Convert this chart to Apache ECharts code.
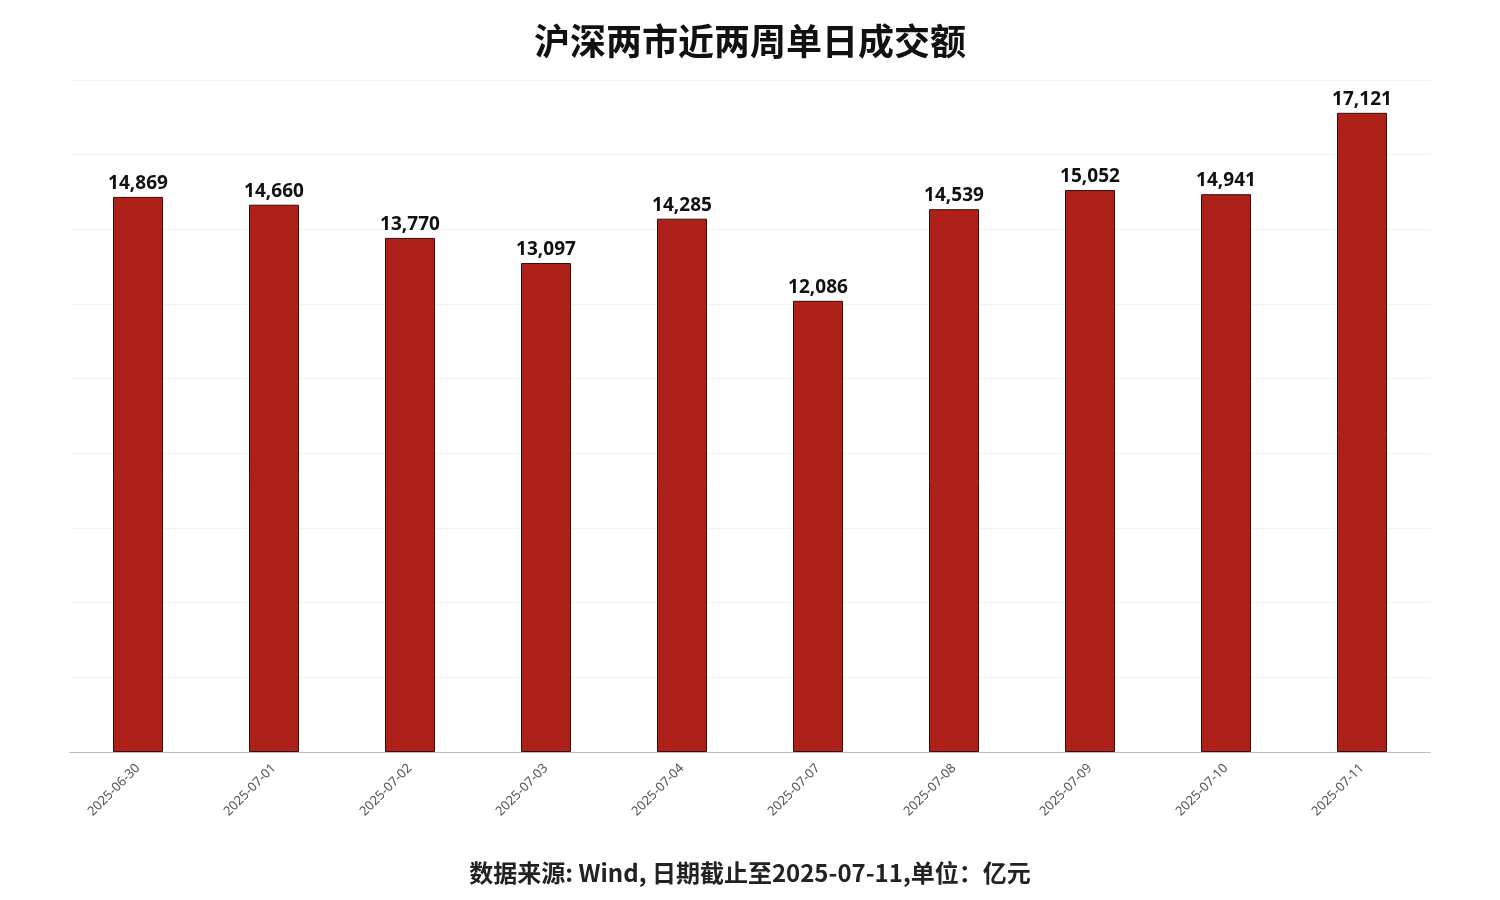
<!DOCTYPE html>
<html>
<head>
<meta charset="utf-8">
<script src="https://cdn.jsdelivr.net/npm/echarts@6/dist/echarts.min.js"></script>
<style>html,body{margin:0;padding:0;background:#fff}#main{width:1500px;height:900px}</style>
</head>
<body>
<div id="main"></div>
<script>
// 日期与成交额(亿元)
var dates = ['2025-06-30', '2025-07-01', '2025-07-02', '2025-07-03', '2025-07-04',
             '2025-07-07', '2025-07-08', '2025-07-09', '2025-07-10', '2025-07-11'];
var amounts = [14869, 14660, 13770, 13097, 14285, 12086, 14539, 15052, 14941, 17121];

var chart = echarts.init(document.getElementById('main'));

var option = {
    backgroundColor: '#fff',
    title: [{
        text: '沪深两市近两周单日成交额',
        left: 'center',
        top: 18,
        textStyle: { fontFamily: 'Noto Sans CJK SC', fontSize: 36, fontWeight: 'bold', color: '#111' }
    }, {
        text: '数据来源: Wind, 日期截止至2025-07-11,单位：亿元',
        left: 'center',
        top: 856,
        textStyle: { fontFamily: 'Noto Sans CJK SC', fontSize: 24, fontWeight: 'bold', color: '#222' }
    }],
    grid: { left: 70, right: 70, top: 80, bottom: 148, containLabel: false },
    xAxis: {
        type: 'category',
        data: dates,
        axisLine: { lineStyle: { color: '#bbb' } },
        axisTick: { show: false },
        axisLabel: { rotate: 45, color: '#555', fontSize: 13, fontFamily: 'Noto Sans', margin: 14 }
    },
    yAxis: {
        type: 'value',
        min: 0,
        max: 18000,
        interval: 2000,
        axisLabel: { show: false },
        axisLine: { show: false },
        axisTick: { show: false },
        splitLine: { lineStyle: { color: '#f3f3f3' } }
    },
    series: [{
        type: 'bar',
        data: amounts,
        barWidth: 50,
        itemStyle: { color: '#ae2118', borderColor: '#3a0a08', borderWidth: 1 },
        label: {
            show: true,
            position: 'top',
            distance: 4,
            color: '#111',
            fontSize: 19,
            fontWeight: 'bold',
            fontFamily: 'Noto Sans',
            formatter: function (p) { return p.value.toLocaleString('en-US'); }
        }
    }]
};

chart.setOption(option);
</script>
</body>
</html>
